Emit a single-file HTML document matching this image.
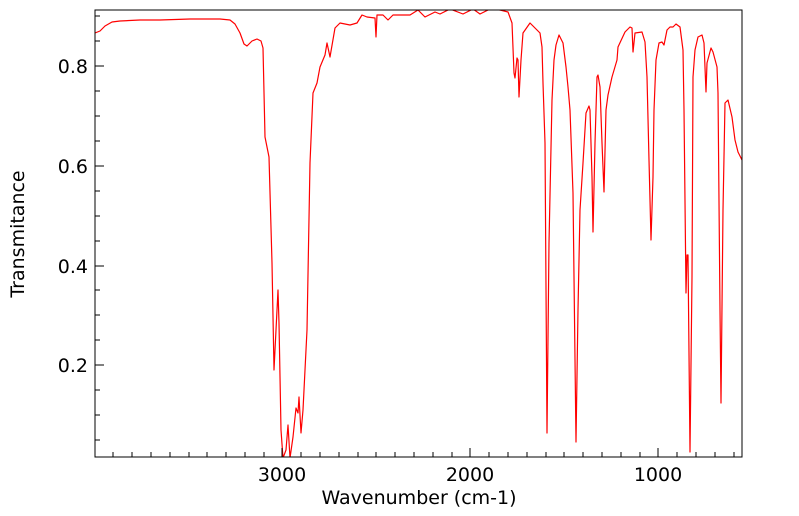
<!DOCTYPE html>
<html><head><meta charset="utf-8"><style>body{margin:0;background:#fff}svg{display:block}text{font-family:"DejaVu Sans","Liberation Sans",sans-serif;font-size:19px;fill:#000}</style></head><body>
<svg width="799" height="516" viewBox="0 0 799 516">
<defs><clipPath id="c"><rect x="95" y="10" width="647" height="447"/></clipPath></defs>
<g clip-path="url(#c)">
<polyline fill="none" stroke="#f00" stroke-width="1.2" stroke-linejoin="round" points="95,33 100,31 105,26 112,22 120,21 140,20 160,20 190,19 220,19 230,20 235,24 240,33 244,44 247,46 252,41 257,39 261,41 263,48 265,137 269,157 272,263 274,370 276,330 278,290 279,323 281,430 283,458 286,450 288,425 290,458 293,437 296,408 298,413 299,397 301,433 303,410 307,330 310,163 313,93 317,83 320,67 325,55 327,43 330,57 335,28 340,23 350,25 357,23 362,15 367,17 375,18 376,37 377,15 383,15 388,20 393,15 410,15 418,10 425,17 435,12 440,14 450,9 463,14 473,9 480,14 490,9 500,10 508,12 512,23 514,73 515,78 517,58 518,60 519,97 521,60 523,33 530,23 537,30 540,33 542,47 543,83 545,143 547,433 549,243 552,100 554,60 556,45 559,35 563,43 566,67 568,87 570,110 573,193 574,277 576,442 578,310 580,210 583,163 586,113 589,106 590,110 592,177 593,232 595,143 597,77 598,75 600,87 602,143 604,192 606,110 608,95 612,77 617,60 618,47 625,32 630,27 632,28 633,52 635,33 642,32 645,42 647,77 649,160 651,240 653,177 654,110 656,60 659,43 662,42 664,45 667,30 670,27 673,27 676,24 680,27 683,50 684,110 686,293 687,255 688,255 690,452 692,277 693,77 695,50 698,37 702,35 704,43 706,92 707,63 711,48 713,52 717,67 718,93 720,310 721,403 723,210 725,103 728,100 732,117 735,140 738,152 742,160"/>
</g>
<rect x="95" y="10" width="647" height="447" fill="none" stroke="#000" stroke-width="1"/>
<g stroke="#000" stroke-width="1">
<path d="M113,457v-5M132,457v-5M151,457v-5M170,457v-5M189,457v-5M207,457v-5M226,457v-5M245,457v-5M264,457v-5M282,457v-9M301,457v-5M320,457v-5M339,457v-5M358,457v-5M376,457v-5M395,457v-5M414,457v-5M433,457v-5M452,457v-5M470,457v-9M489,457v-5M508,457v-5M527,457v-5M546,457v-5M564,457v-5M583,457v-5M602,457v-5M621,457v-5M640,457v-5M658,457v-9M677,457v-5M696,457v-5M715,457v-5M734,457v-5"/>
<path d="M95,440h5M95,415h5M95,390h5M95,365h9M95,340h5M95,315h5M95,290h5M95,266h9M95,241h5M95,216h5M95,191h5M95,166h9M95,141h5M95,116h5M95,91h5M95,66h9M95,41h5M95,16h5"/>
</g>
<g text-anchor="end"><text x="88" y="372">0.2</text><text x="88" y="273">0.4</text><text x="88" y="173">0.6</text><text x="88" y="73">0.8</text></g>
<g text-anchor="middle"><text x="282" y="481">3000</text><text x="470" y="481">2000</text><text x="658" y="481">1000</text>
<text x="419" y="504">Wavenumber (cm-1)</text>
<text transform="translate(24,234) rotate(-90)">Transmitance</text></g>
</svg>
</body></html>
